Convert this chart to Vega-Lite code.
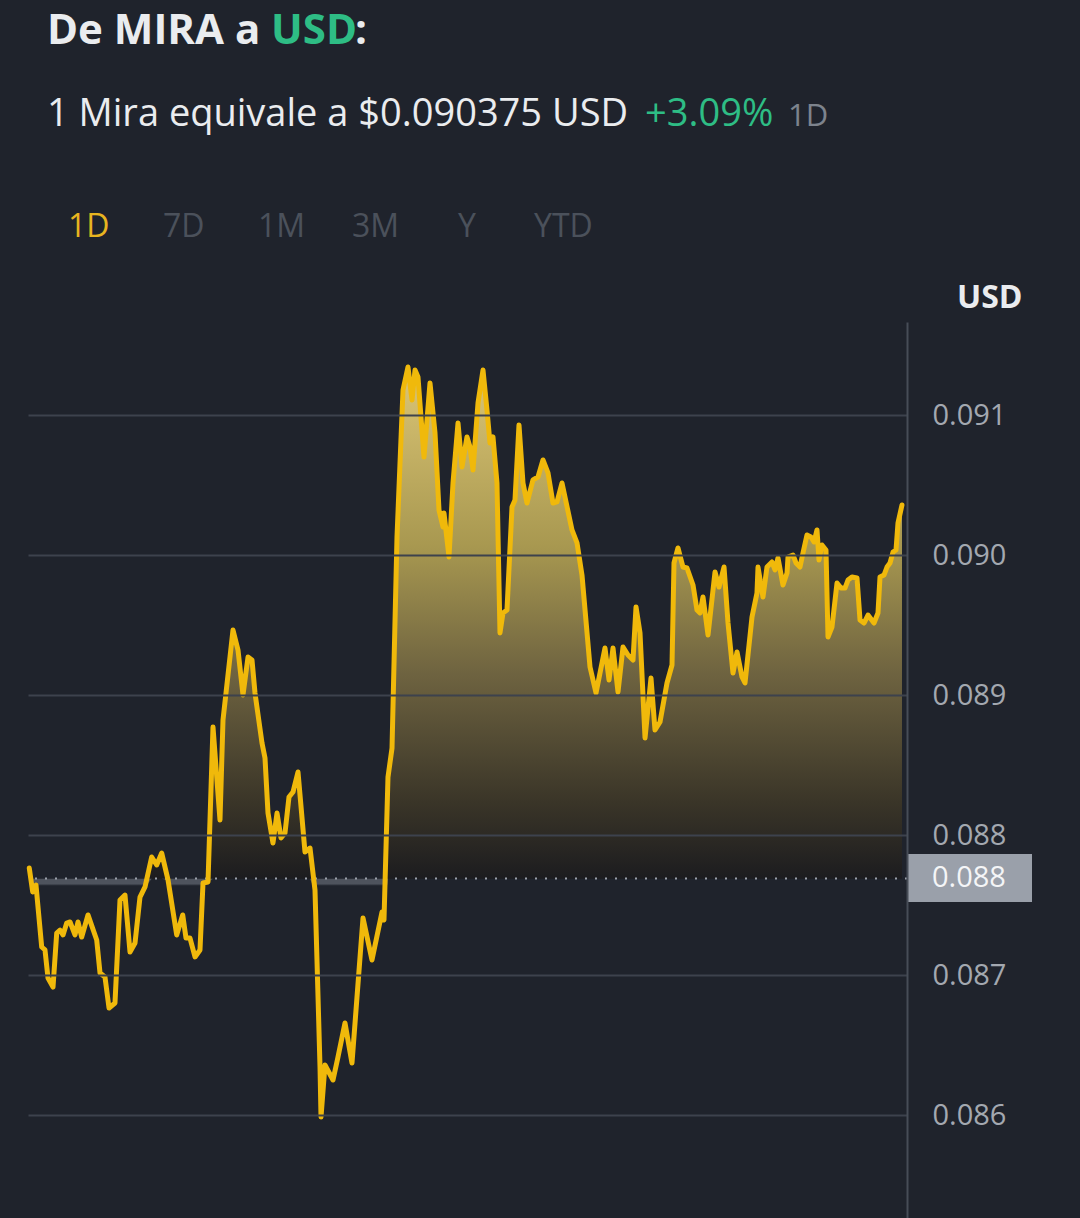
{
  "$schema": "https://vega.github.io/schema/vega-lite/v6.json",
  "width": 879,
  "height": 896,
  "autosize": {"type": "none"},
  "padding": {"left": 28, "top": 322, "right": 173, "bottom": 0},
  "background": "#1f232c",
  "config": {"view": {"stroke": null}, "font": "Open Sans"},
  "datasets": {
    "price": [
      {"t": 0.035, "v": 0.087764}, {"t": 0.128, "v": 0.087593}, {"t": 0.218, "v": 0.087643}, {"t": 0.374, "v": 0.0872},
      {"t": 0.464, "v": 0.087179}, {"t": 0.546, "v": 0.086979}, {"t": 0.683, "v": 0.086914}, {"t": 0.784, "v": 0.0873},
      {"t": 0.874, "v": 0.087321}, {"t": 0.956, "v": 0.087286}, {"t": 1.057, "v": 0.087371}, {"t": 1.147, "v": 0.087379},
      {"t": 1.283, "v": 0.087286}, {"t": 1.365, "v": 0.087379}, {"t": 1.466, "v": 0.087271}, {"t": 1.638, "v": 0.087429},
      {"t": 1.876, "v": 0.08725}, {"t": 1.966, "v": 0.087014}, {"t": 2.102, "v": 0.086986}, {"t": 2.212, "v": 0.086764},
      {"t": 2.375, "v": 0.0868}, {"t": 2.512, "v": 0.087536}, {"t": 2.648, "v": 0.087571}, {"t": 2.785, "v": 0.087164},
      {"t": 2.922, "v": 0.087229}, {"t": 3.058, "v": 0.087557}, {"t": 3.195, "v": 0.087629}, {"t": 3.377, "v": 0.087843},
      {"t": 3.514, "v": 0.087786}, {"t": 3.651, "v": 0.087871}, {"t": 3.823, "v": 0.087679}, {"t": 4.06, "v": 0.087286},
      {"t": 4.224, "v": 0.087429}, {"t": 4.314, "v": 0.087264}, {"t": 4.423, "v": 0.087264}, {"t": 4.56, "v": 0.087129},
      {"t": 4.696, "v": 0.087179}, {"t": 4.778, "v": 0.087657}, {"t": 4.915, "v": 0.087664}, {"t": 5.051, "v": 0.088771},
      {"t": 5.242, "v": 0.088107}, {"t": 5.324, "v": 0.088821}, {"t": 5.597, "v": 0.089464}, {"t": 5.734, "v": 0.089321},
      {"t": 5.87, "v": 0.089}, {"t": 6.007, "v": 0.089271}, {"t": 6.116, "v": 0.08925}, {"t": 6.198, "v": 0.089014},
      {"t": 6.389, "v": 0.088657}, {"t": 6.471, "v": 0.08855}, {"t": 6.553, "v": 0.088157}, {"t": 6.689, "v": 0.087943},
      {"t": 6.799, "v": 0.088157}, {"t": 6.908, "v": 0.087979}, {"t": 7.017, "v": 0.088014}, {"t": 7.126, "v": 0.088271},
      {"t": 7.235, "v": 0.088307}, {"t": 7.372, "v": 0.08845}, {"t": 7.563, "v": 0.087879}, {"t": 7.7, "v": 0.087907},
      {"t": 7.836, "v": 0.087607}, {"t": 7.973, "v": 0.086343}, {"t": 8.0, "v": 0.085986}, {"t": 8.109, "v": 0.086357},
      {"t": 8.328, "v": 0.08625}, {"t": 8.464, "v": 0.086414}, {"t": 8.655, "v": 0.086657}, {"t": 8.846, "v": 0.086371},
      {"t": 9.147, "v": 0.087407}, {"t": 9.392, "v": 0.087107}, {"t": 9.666, "v": 0.08745}, {"t": 9.72, "v": 0.087393},
      {"t": 9.829, "v": 0.088414}, {"t": 9.939, "v": 0.088621}, {"t": 10.075, "v": 0.090129}, {"t": 10.239, "v": 0.091179},
      {"t": 10.375, "v": 0.091343}, {"t": 10.485, "v": 0.091107}, {"t": 10.567, "v": 0.091321}, {"t": 10.648, "v": 0.091271},
      {"t": 10.812, "v": 0.0907}, {"t": 10.976, "v": 0.091229}, {"t": 11.113, "v": 0.090871}, {"t": 11.222, "v": 0.090321},
      {"t": 11.331, "v": 0.0902}, {"t": 11.358, "v": 0.0903}, {"t": 11.495, "v": 0.089986}, {"t": 11.604, "v": 0.090514},
      {"t": 11.741, "v": 0.090943}, {"t": 11.85, "v": 0.090629}, {"t": 11.986, "v": 0.090843}, {"t": 12.068, "v": 0.090771},
      {"t": 12.15, "v": 0.090607}, {"t": 12.287, "v": 0.091086}, {"t": 12.423, "v": 0.091321}, {"t": 12.532, "v": 0.091036},
      {"t": 12.614, "v": 0.0908}, {"t": 12.696, "v": 0.090843}, {"t": 12.805, "v": 0.090514}, {"t": 12.887, "v": 0.089443},
      {"t": 12.969, "v": 0.089586}, {"t": 13.078, "v": 0.089607}, {"t": 13.215, "v": 0.090343}, {"t": 13.297, "v": 0.090393},
      {"t": 13.406, "v": 0.090929}, {"t": 13.515, "v": 0.090514}, {"t": 13.624, "v": 0.090371}, {"t": 13.788, "v": 0.090536},
      {"t": 13.925, "v": 0.090557}, {"t": 14.061, "v": 0.090679}, {"t": 14.198, "v": 0.090586}, {"t": 14.334, "v": 0.090371},
      {"t": 14.444, "v": 0.090379}, {"t": 14.58, "v": 0.090514}, {"t": 14.853, "v": 0.090179}, {"t": 14.99, "v": 0.090086},
      {"t": 15.126, "v": 0.089857}, {"t": 15.345, "v": 0.0892}, {"t": 15.509, "v": 0.089014}, {"t": 15.754, "v": 0.089336},
      {"t": 15.864, "v": 0.089107}, {"t": 15.973, "v": 0.089336}, {"t": 16.109, "v": 0.089021}, {"t": 16.246, "v": 0.089343},
      {"t": 16.382, "v": 0.089286}, {"t": 16.519, "v": 0.08925}, {"t": 16.601, "v": 0.089629}, {"t": 16.71, "v": 0.089443},
      {"t": 16.847, "v": 0.088693}, {"t": 17.01, "v": 0.089121}, {"t": 17.119, "v": 0.08875}, {"t": 17.256, "v": 0.088807},
      {"t": 17.447, "v": 0.089086}, {"t": 17.584, "v": 0.089214}, {"t": 17.638, "v": 0.089943}, {"t": 17.747, "v": 0.09005},
      {"t": 17.884, "v": 0.089914}, {"t": 17.993, "v": 0.089907}, {"t": 18.157, "v": 0.089786}, {"t": 18.266, "v": 0.089607},
      {"t": 18.348, "v": 0.089586}, {"t": 18.43, "v": 0.0897}, {"t": 18.567, "v": 0.089429}, {"t": 18.758, "v": 0.089879},
      {"t": 18.867, "v": 0.089771}, {"t": 19.004, "v": 0.089914}, {"t": 19.113, "v": 0.089514}, {"t": 19.249, "v": 0.089157},
      {"t": 19.359, "v": 0.089307}, {"t": 19.495, "v": 0.089129}, {"t": 19.577, "v": 0.089086}, {"t": 19.768, "v": 0.089557},
      {"t": 19.904, "v": 0.089729}, {"t": 19.932, "v": 0.089914}, {"t": 20.068, "v": 0.0897}, {"t": 20.177, "v": 0.089914},
      {"t": 20.314, "v": 0.08995}, {"t": 20.396, "v": 0.089893}, {"t": 20.478, "v": 0.089979}, {"t": 20.614, "v": 0.089786},
      {"t": 20.724, "v": 0.089871}, {"t": 20.751, "v": 0.089986}, {"t": 20.887, "v": 0.09}, {"t": 20.969, "v": 0.089943},
      {"t": 21.078, "v": 0.089914}, {"t": 21.16, "v": 0.090014}, {"t": 21.269, "v": 0.090143}, {"t": 21.379, "v": 0.090129},
      {"t": 21.461, "v": 0.090093}, {"t": 21.543, "v": 0.090179}, {"t": 21.597, "v": 0.089964}, {"t": 21.679, "v": 0.090071},
      {"t": 21.788, "v": 0.090036}, {"t": 21.843, "v": 0.089414}, {"t": 21.952, "v": 0.089486}, {"t": 22.089, "v": 0.0898},
      {"t": 22.198, "v": 0.089764}, {"t": 22.307, "v": 0.089764}, {"t": 22.389, "v": 0.089821}, {"t": 22.498, "v": 0.089843},
      {"t": 22.635, "v": 0.089836}, {"t": 22.717, "v": 0.089536}, {"t": 22.826, "v": 0.089514}, {"t": 22.935, "v": 0.089571},
      {"t": 23.099, "v": 0.089514}, {"t": 23.208, "v": 0.089586}, {"t": 23.263, "v": 0.089843}, {"t": 23.372, "v": 0.089857},
      {"t": 23.454, "v": 0.089914}, {"t": 23.536, "v": 0.089943}, {"t": 23.618, "v": 0.090021}, {"t": 23.7, "v": 0.090036},
      {"t": 23.754, "v": 0.090229}, {"t": 23.863, "v": 0.090357}
    ]
  },
  "data": {"name": "price"},
  "resolve": {"scale": {"y": "independent"}},
  "layer": [
    {
      "mark": {
        "type": "area",
        "interpolate": "linear",
        "fill": {
          "gradient": "linear", "x1": 0, "y1": 0, "x2": 0, "y2": 1,
          "stops": [
            {"offset": 0, "color": "#dcc676"},
            {"offset": 0.35, "color": "#a89850"},
            {"offset": 0.6, "color": "#6e6340"},
            {"offset": 0.85, "color": "#3a3528"},
            {"offset": 1, "color": "#1c1c1f"}
          ]
        }
      },
      "encoding": {
        "x": {"field": "t", "type": "quantitative", "scale": {"domain": [0, 24], "nice": false, "zero": false}, "axis": null},
        "y": {"field": "v", "type": "quantitative", "scale": {"domain": [0.08769, 0.09166429], "range": [556.8, 0], "clamp": true, "nice": false, "zero": false}, "axis": null},
        "y2": {"datum": 0.08769}
      }
    },
    {
      "mark": {
        "type": "area",
        "interpolate": "linear",
        "fill": {
          "gradient": "linear", "x1": 0, "y1": 0, "x2": 0, "y2": 1,
          "stops": [
            {"offset": 0, "color": "#4e535d"},
            {"offset": 0.022, "color": "#4e535d"},
            {"offset": 0.032, "color": "rgba(31,35,44,0)"},
            {"offset": 1, "color": "rgba(31,35,44,0)"}
          ]
        }
      },
      "encoding": {
        "x": {"field": "t", "type": "quantitative", "scale": {"domain": [0, 24], "nice": false, "zero": false}, "axis": null},
        "y": {"field": "v", "type": "quantitative", "scale": {"domain": [0.08526429, 0.08769], "range": [896, 556.8], "clamp": true, "nice": false, "zero": false}, "axis": null},
        "y2": {"datum": 0.08769}
      }
    },
    {
      "layer": [
        {
          "data": {"values": [{}]},
          "mark": {"type": "rule", "stroke": "#9aa0aa", "strokeWidth": 2, "strokeDash": [2, 8]},
          "encoding": {
            "y": {"datum": 0.08769, "type": "quantitative", "scale": {"domain": [0.08526429, 0.09166429], "nice": false, "zero": false}}
          }
        },
        {
          "mark": {"type": "line", "stroke": "#f0b90b", "strokeWidth": 5, "strokeJoin": "round", "strokeCap": "round", "interpolate": "linear"},
          "encoding": {
            "x": {"field": "t", "type": "quantitative", "scale": {"domain": [0, 24], "nice": false, "zero": false}, "axis": null},
            "y": {
              "field": "v", "type": "quantitative",
              "scale": {"domain": [0.08526429, 0.09166429], "nice": false, "zero": false},
              "axis": {
                "orient": "right",
                "values": [0.086, 0.087, 0.088, 0.089, 0.09, 0.091],
                "format": ".3f",
                "grid": true, "gridColor": "#3d424d", "gridWidth": 2,
                "domain": true, "domainColor": "#474d57", "domainWidth": 2,
                "ticks": false,
                "labelPadding": 25, "labelFont": "Open Sans", "labelFontSize": 29, "labelColor": "#a3a8b0",
                "labelAlign": "left", "labelBaseline": "middle", "labelFlush": false, "labelOverlap": false,
                "title": "USD", "titleAngle": 0, "titleX": 115, "titleY": -15, "titleAlign": "right", "titleBaseline": "alphabetic",
                "titleFont": "Open Sans", "titleFontSize": 32, "titleFontWeight": "bold", "titleColor": "#eaecef",
                "zindex": 1
              }
            }
          }
        },
        {
          "data": {"values": [{}]},
          "mark": {"type": "rect", "fill": "#9aa0aa"},
          "encoding": {
            "x": {"value": 879}, "x2": {"value": 1004},
            "y": {"datum": 0.087864, "type": "quantitative"}, "y2": {"datum": 0.087521}
          }
        },
        {
          "data": {"values": [{}]},
          "mark": {"type": "text", "text": "0.088", "align": "left", "baseline": "middle", "font": "Open Sans", "fontSize": 29, "color": "#f4f5f7"},
          "encoding": {"x": {"value": 904}, "y": {"datum": 0.08769, "type": "quantitative"}}
        }
      ]
    },
    {
      "data": {"values": [{}]},
      "mark": {"type": "text", "text": "De MIRA a", "align": "left", "baseline": "alphabetic", "font": "Open Sans", "fontSize": 42, "fontWeight": "bold", "color": "#eaecef"},
      "encoding": {"x": {"value": 19}, "y": {"value": -278}}
    },
    {
      "data": {"values": [{}]},
      "mark": {"type": "text", "text": "USD", "align": "left", "baseline": "alphabetic", "font": "Open Sans", "fontSize": 42, "fontWeight": "bold", "color": "#2ebd85"},
      "encoding": {"x": {"value": 243}, "y": {"value": -278}}
    },
    {
      "data": {"values": [{}]},
      "mark": {"type": "text", "text": ":", "align": "left", "baseline": "alphabetic", "font": "Open Sans", "fontSize": 42, "fontWeight": "bold", "color": "#eaecef"},
      "encoding": {"x": {"value": 327}, "y": {"value": -278}}
    },
    {
      "data": {"values": [{}]},
      "mark": {"type": "text", "text": "1 Mira equivale a $0.090375 USD", "align": "left", "baseline": "alphabetic", "font": "Open Sans", "fontSize": 38, "fontWeight": 500, "color": "#eaecef"},
      "encoding": {"x": {"value": 19}, "y": {"value": -196}}
    },
    {
      "data": {"values": [{}]},
      "mark": {"type": "text", "text": "+3.09%", "align": "left", "baseline": "alphabetic", "font": "Open Sans", "fontSize": 38, "fontWeight": 500, "color": "#2ebd85"},
      "encoding": {"x": {"value": 617}, "y": {"value": -196}}
    },
    {
      "data": {"values": [{}]},
      "mark": {"type": "text", "text": "1D", "align": "left", "baseline": "alphabetic", "font": "Open Sans", "fontSize": 31, "color": "#7d838d"},
      "encoding": {"x": {"value": 760}, "y": {"value": -196}}
    },
    {
      "data": {"values": [{}]},
      "mark": {"type": "text", "text": "1D", "align": "left", "baseline": "alphabetic", "font": "Open Sans", "fontSize": 32, "fontWeight": 500, "color": "#e8b520"},
      "encoding": {"x": {"value": 40}, "y": {"value": -85}}
    },
    {
      "data": {"values": [{}]},
      "mark": {"type": "text", "text": "7D", "align": "left", "baseline": "alphabetic", "font": "Open Sans", "fontSize": 32, "fontWeight": 500, "color": "#4b515b"},
      "encoding": {"x": {"value": 135}, "y": {"value": -85}}
    },
    {
      "data": {"values": [{}]},
      "mark": {"type": "text", "text": "1M", "align": "left", "baseline": "alphabetic", "font": "Open Sans", "fontSize": 32, "fontWeight": 500, "color": "#4b515b"},
      "encoding": {"x": {"value": 230}, "y": {"value": -85}}
    },
    {
      "data": {"values": [{}]},
      "mark": {"type": "text", "text": "3M", "align": "left", "baseline": "alphabetic", "font": "Open Sans", "fontSize": 32, "fontWeight": 500, "color": "#4b515b"},
      "encoding": {"x": {"value": 324}, "y": {"value": -85}}
    },
    {
      "data": {"values": [{}]},
      "mark": {"type": "text", "text": "Y", "align": "left", "baseline": "alphabetic", "font": "Open Sans", "fontSize": 32, "fontWeight": 500, "color": "#4b515b"},
      "encoding": {"x": {"value": 430}, "y": {"value": -85}}
    },
    {
      "data": {"values": [{}]},
      "mark": {"type": "text", "text": "YTD", "align": "left", "baseline": "alphabetic", "font": "Open Sans", "fontSize": 32, "fontWeight": 500, "color": "#4b515b"},
      "encoding": {"x": {"value": 506}, "y": {"value": -85}}
    }
  ]
}
